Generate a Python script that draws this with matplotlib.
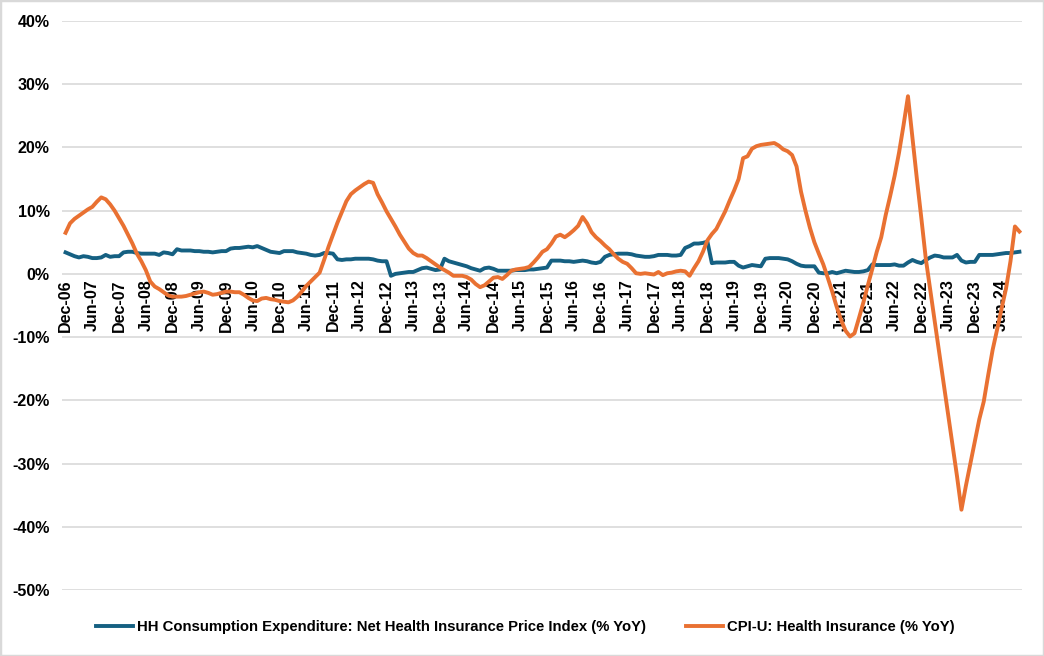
import matplotlib
matplotlib.use('Agg')
import matplotlib.pyplot as plt
import pandas as pd
from matplotlib.patches import Rectangle

# monthly, Dec-06 .. Oct-24
months = pd.date_range('2006-12-01', periods=215, freq='MS')

# HH Consumption Expenditure: Net Health Insurance Price Index (% YoY)
hh_index = [
    3.4, 3.1, 2.8, 2.6, 2.8, 2.7, 2.5, 2.5, 2.6, 3.0, 2.7, 2.8,
    2.8, 3.4, 3.5, 3.5, 3.3, 3.2, 3.2, 3.2, 3.2, 3.0, 3.4, 3.3,
    3.1, 3.9, 3.7, 3.7, 3.7, 3.6, 3.6, 3.5, 3.5, 3.4, 3.5, 3.6,
    3.6, 4.0, 4.1, 4.1, 4.2, 4.3, 4.2, 4.4, 4.1, 3.8, 3.5, 3.4,
    3.3, 3.6, 3.6, 3.6, 3.4, 3.3, 3.2, 3.0, 2.9, 3.0, 3.3, 3.3,
    3.2, 2.3, 2.2, 2.3, 2.3, 2.4, 2.4, 2.4, 2.4, 2.3, 2.1, 2.0,
    2.0, -0.3, 0.0, 0.1, 0.2, 0.3, 0.3, 0.6, 0.9, 1.0, 0.8, 0.6,
    0.7, 2.4, 2.0, 1.8, 1.6, 1.4, 1.2, 0.9, 0.7, 0.5, 0.9, 1.0,
    0.8, 0.5, 0.5, 0.5, 0.5, 0.6, 0.6, 0.6, 0.7, 0.7, 0.8, 0.9,
    1.0, 2.1, 2.1, 2.1, 2.0, 2.0, 1.9, 2.0, 2.1, 2.0, 1.8, 1.7,
    1.9, 2.7, 3.0, 3.1, 3.2, 3.2, 3.2, 3.1, 2.9, 2.8, 2.7, 2.7,
    2.8, 3.0, 3.0, 3.0, 2.9, 2.9, 3.0, 4.1, 4.4, 4.8, 4.8, 4.9,
    5.1, 1.7, 1.8, 1.8, 1.8, 1.9, 1.9, 1.3, 1.0, 1.2, 1.4, 1.3,
    1.2, 2.4, 2.5, 2.5, 2.5, 2.4, 2.3, 2.0, 1.6, 1.3, 1.2, 1.2,
    1.2, 0.2, 0.1, 0.1, 0.3, 0.1, 0.3, 0.5, 0.4, 0.3, 0.3, 0.4,
    0.6, 1.5, 1.4, 1.4, 1.4, 1.4, 1.5, 1.3, 1.3, 1.8, 2.2, 1.9,
    1.7, 2.2, 2.6, 2.9, 2.8, 2.6, 2.6, 2.6, 3.0, 2.1, 1.8, 1.9,
    1.9, 3.0, 3.0, 3.0, 3.0, 3.1, 3.2, 3.3, 3.3, 3.4, 3.5,
]

# CPI-U: Health Insurance (% YoY)
cpi_health = [
    6.5, 8.0, 8.7, 9.2, 9.7, 10.2, 10.6, 11.4, 12.1, 11.8, 11.0, 10.0,
    8.8, 7.6, 6.2, 4.8, 3.2, 2.0, 0.6, -1.2, -2.0, -2.4, -2.9, -3.4,
    -3.6, -3.6, -3.6, -3.5, -3.3, -3.1, -2.9, -2.8, -3.0, -3.3, -3.2, -3.0,
    -2.8, -2.8, -2.9, -2.9, -3.3, -3.8, -4.2, -4.3, -3.9, -3.8, -4.0, -4.1,
    -4.3, -4.4, -4.5, -4.2, -3.6, -2.8, -1.9, -1.2, -0.5, 0.2, 2.2, 4.3,
    6.2, 8.1, 9.8, 11.5, 12.6, 13.2, 13.7, 14.2, 14.6, 14.4, 12.6, 11.3,
    9.9, 8.7, 7.5, 6.2, 5.1, 4.0, 3.3, 2.9, 2.9, 2.5, 2.0, 1.5,
    1.0, 0.6, 0.2, -0.3, -0.3, -0.3, -0.5, -0.9, -1.6, -2.1, -1.8, -1.2,
    -0.6, -0.5, -0.8, -0.2, 0.5, 0.7, 0.8, 0.9, 1.1, 1.8, 2.6, 3.5,
    3.9, 4.8, 5.9, 6.2, 5.8, 6.3, 6.9, 7.6, 9.0, 8.0, 6.6, 5.8,
    5.2, 4.5, 3.9, 3.1, 2.4, 1.9, 1.6, 0.9, 0.1, 0.0, 0.1, 0.0,
    -0.1, 0.3, -0.2, 0.1, 0.2, 0.4, 0.5, 0.4, -0.3, 0.9, 2.0, 3.5,
    5.3, 6.3, 7.1, 8.5, 9.9, 11.6, 13.2, 15.0, 18.3, 18.6, 19.8, 20.2,
    20.4, 20.5, 20.6, 20.7, 20.3, 19.7, 19.4, 18.8, 17.0, 13.0, 10.0, 7.3,
    5.0, 3.2, 1.5, -0.6, -2.8, -5.2, -7.3, -9.0, -9.9, -9.4, -7.0, -4.5,
    -1.8, 0.8, 3.5, 5.8, 9.3, 12.3, 15.5, 19.2, 23.5, 28.1, 21.5, 15.0,
    8.8, 2.4, -2.6, -7.5, -12.4, -17.3, -22.3, -27.1, -32.0, -37.3, -33.5, -30.0,
    -26.5, -23.0, -20.2, -16.0, -12.0, -8.8, -5.5, -2.3, 2.0, 7.5, 6.7,
]

y_ticks = list(range(-50, 41, 10))

plt.rcParams['font.family'] = ['Liberation Sans', 'DejaVu Sans']
plt.rcParams['font.weight'] = 'bold'

fig = plt.figure(figsize=(10.44, 6.56), dpi=100)
ax = fig.add_axes([0.0594, 0.1006, 0.9196, 0.8674])

x = list(range(len(months)))
ax.plot(x, hh_index, color='#156082', lw=2.8, solid_joinstyle='round',
        label='HH Consumption Expenditure: Net Health Insurance Price Index (% YoY)')
ax.plot(x, cpi_health, color='#E97132', lw=2.8, solid_joinstyle='round',
        label='CPI-U: Health Insurance (% YoY)')

ax.set_ylim(-50, 40)
ax.set_xlim(-0.8, 214.6)
ax.set_yticks(y_ticks)
ax.set_yticklabels([f'{v}%' for v in y_ticks])
ax.grid(axis='y', color='#D9D9D9', lw=1.2)
ax.set_axisbelow(True)
for s in ['top', 'right', 'left']:
    ax.spines[s].set_visible(False)
# category labels sit on the 0% line, like Excel
ax.spines['bottom'].set_position(('data', 0))
ax.spines['bottom'].set_visible(False)

ax.set_xticks(x[::6])
ax.set_xticklabels([m.strftime('%b-%y') for m in months[::6]])
ax.tick_params(axis='x', length=0, pad=4, labelrotation=90, labelsize=11.5)
ax.tick_params(axis='y', length=0, pad=9, labelsize=11.5)

fig.legend(loc='center', bbox_to_anchor=(0.503, 1 - 627 / 656), ncol=2, frameon=False,
           handlelength=2.5, handletextpad=0.25, columnspacing=2.7, fontsize=10.7)

fig.patches.append(Rectangle((0, 0), 1, 1, transform=fig.transFigure, fill=False,
                             edgecolor='#D9D9D9', lw=2.5))

fig.savefig('out.png', dpi=100)
